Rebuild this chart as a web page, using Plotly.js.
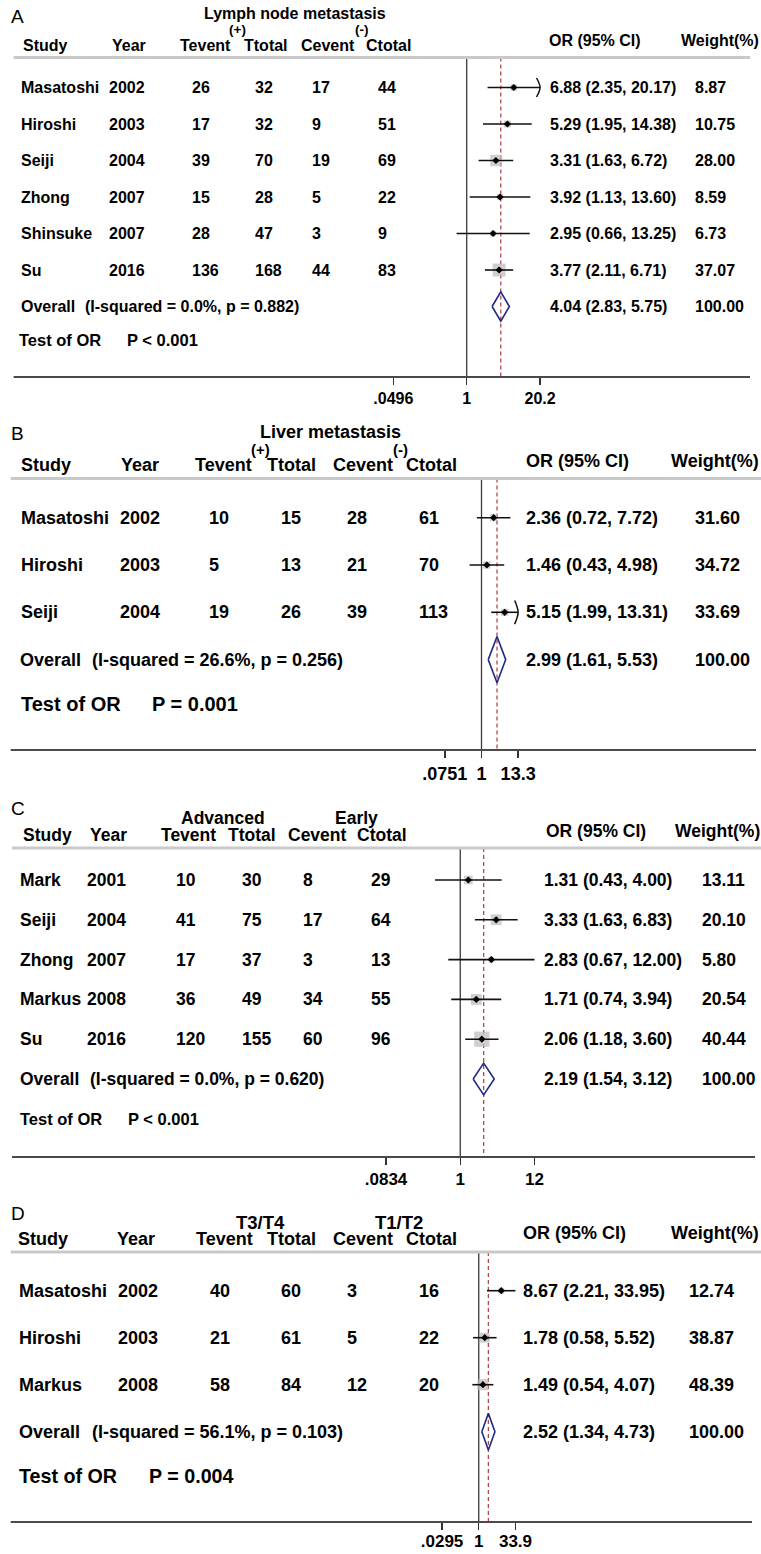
<!DOCTYPE html>
<html><head><meta charset="utf-8">
<script src="https://cdn.plot.ly/plotly-3.0.1.min.js"></script>
<style>html,body{margin:0;padding:0;background:#fff}#chart{width:761px;height:1554px}</style>
</head><body><div id="chart"></div>
<script>
// ================= DATA =================
const columnHeaders = ["Study","Year","Tevent","Ttotal","Cevent","Ctotal","OR (95% CI)","Weight(%)"];
const overallWeightText = "100.00";

// Panel A: Lymph node metastasis
const headA = ["Lymph node metastasis","(+)","(-)"];
const studiesA = ["Masatoshi","Hiroshi","Seiji","Zhong","Shinsuke","Su"];
const yearsA = [2002,2003,2004,2007,2007,2016];
const teventA = [26,17,39,15,28,136];
const ttotalA = [32,32,70,28,47,168];
const ceventA = [17,9,19,5,3,44];
const ctotalA = [44,51,69,22,9,83];
const orA = [6.88,5.29,3.31,3.92,2.95,3.77];
const lowA = [2.35,1.95,1.63,1.13,0.66,2.11];
const highA = [20.17,14.38,6.72,13.60,13.25,6.71];
const weightA = [8.87,10.75,28.00,8.59,6.73,37.07];
const arrowA = [true,false,false,false,false,false];
const overallA = [4.04,2.83,5.75];
const hetA = ["0.0%","0.882"];
const testA = "P < 0.001";
const tickValsA = [0.0496,1,20.2];
const tickTextA = [".0496","1","20.2"];

// Panel B: Liver metastasis
const headB = ["Liver metastasis","(+)","(-)"];
const studiesB = ["Masatoshi","Hiroshi","Seiji"];
const yearsB = [2002,2003,2004];
const teventB = [10,5,19];
const ttotalB = [15,13,26];
const ceventB = [28,21,39];
const ctotalB = [61,70,113];
const orB = [2.36,1.46,5.15];
const lowB = [0.72,0.43,1.99];
const highB = [7.72,4.98,13.31];
const weightB = [31.60,34.72,33.69];
const arrowB = [false,false,true];
const overallB = [2.99,1.61,5.53];
const hetB = ["26.6%","0.256"];
const testB = "P = 0.001";
const tickValsB = [0.0751,1,13.3];
const tickTextB = [".0751","1","13.3"];

// Panel C: Advanced vs Early
const headC = ["","Advanced","Early"];
const studiesC = ["Mark","Seiji","Zhong","Markus","Su"];
const yearsC = [2001,2004,2007,2008,2016];
const teventC = [10,41,17,36,120];
const ttotalC = [30,75,37,49,155];
const ceventC = [8,17,3,34,60];
const ctotalC = [29,64,13,55,96];
const orC = [1.31,3.33,2.83,1.71,2.06];
const lowC = [0.43,1.63,0.67,0.74,1.18];
const highC = [4.00,6.83,12.00,3.94,3.60];
const weightC = [13.11,20.10,5.80,20.54,40.44];
const arrowC = [false,false,false,false,false];
const overallC = [2.19,1.54,3.12];
const hetC = ["0.0%","0.620"];
const testC = "P < 0.001";
const tickValsC = [0.0834,1,12];
const tickTextC = [".0834","1","12"];

// Panel D: T3/T4 vs T1/T2
const headD = ["","T3/T4","T1/T2"];
const studiesD = ["Masatoshi","Hiroshi","Markus"];
const yearsD = [2002,2003,2008];
const teventD = [40,21,58];
const ttotalD = [60,61,84];
const ceventD = [3,5,12];
const ctotalD = [16,22,20];
const orD = [8.67,1.78,1.49];
const lowD = [2.21,0.58,0.54];
const highD = [33.95,5.52,4.07];
const weightD = [12.74,38.87,48.39];
const arrowD = [false,false,false];
const overallD = [2.52,1.34,4.73];
const hetD = ["56.1%","0.103"];
const testD = "P = 0.004";
const tickValsD = [0.0295,1,33.9];
const tickTextD = [".0295","1","33.9"];

// ================= LAYOUT GEOMETRY (pixels) =================
const W = 761, H = 1554;
const FONT = 'Liberation Sans, Arial, Helvetica, sans-serif';

const geoA = {top:57.5, bot:377, row0:87.5, sp:36.5, nullPx:466.7, ppd:56.2, fs:16, tickFs:16, tickShift:0, titleFs:16, subFs:13.5, testFs:16.5,
  box:2.13, dH:0.4, arrowH:0.26, letter:"A", letterXY:[10,16], titleXY:[295,13.5], subX:[237,362], subY:30, hdrY:45, orHdrY:41,
  hdrX:[21.8,110.7,178.6,242.7,300,365,547.6,680], colX:[20.4,107.8,190.8,253.9,310.7,377.2,548.5,694.2],
  overallX:[20.4,83.5], testXY:[18.4,126,340], grayX:[13.6,750], botX:[13.6,750]};
const geoB = {top:478.5, bot:750, row0:517.7, sp:47.3, nullPx:481.5, ppd:32.6, fs:18, tickFs:18, tickShift:0, titleFs:18, subFs:15, testFs:20,
  box:1.25, dH:0.49, arrowH:0.25, letter:"B", letterXY:[10,433], titleXY:[330,432], subX:[260.7,400.5], subY:449.3, hdrY:465.5, orHdrY:461,
  hdrX:[20.4,120.4,194.2,265.5,331.6,405.3,525.2,670], colX:[20.4,119.4,207.8,280,345.6,418.4,525.2,694.2],
  overallX:[19.4,91.3], testXY:[20.4,150.5,704.3], grayX:[10.7,761], botX:[10.7,756]};
const geoC = {top:848, bot:1157, row0:880, sp:39.8, nullPx:460.25, ppd:68.8, fs:17.5, tickFs:17, tickShift:0, titleFs:17.5, subFs:17.5, testFs:16.5,
  box:2.4, dH:0.4, arrowH:0.25, letter:"C", letterXY:[10,808], titleXY:null, subX:[223.3,356.3], subY:818.3, hdrY:835, orHdrY:831,
  hdrX:[21.8,88.8,160.2,227.2,287.4,355.8,545.1,674], colX:[19.4,86.4,174.8,241.3,302,370,542.7,700.5],
  overallX:[19.4,89.3], testXY:[19.4,127,1119], grayX:[12,761], botX:[12,755]};
const geoD = {top:1252, bot:1522, row0:1290.7, sp:47, nullPx:478.75, ppd:24.0, fs:18, tickFs:17, tickShift:-3, titleFs:18, subFs:18.5, testFs:19.7,
  box:1.6, dH:0.39, arrowH:0.25, letter:"D", letterXY:[10,1213.3], titleXY:null, subX:[260.4,399.3], subY:1222.3, hdrY:1239.3, orHdrY:1233.3,
  hdrX:[17,115.5,195.1,266,331.6,405.3,522.3,670], colX:[18.4,117,208.7,280,345.6,418.4,522.3,688.3],
  overallX:[18.4,90.8], testXY:[18.4,148,1476], grayX:[10.7,761], botX:[10.7,752]};

const panels = [
  {head:headA, studies:studiesA, years:yearsA, tevent:teventA, ttotal:ttotalA, cevent:ceventA, ctotal:ctotalA, or:orA, low:lowA, high:highA, weight:weightA, arrow:arrowA, overall:overallA, het:hetA, test:testA, tickVals:tickValsA, tickText:tickTextA, geo:geoA},
  {head:headB, studies:studiesB, years:yearsB, tevent:teventB, ttotal:ttotalB, cevent:ceventB, ctotal:ctotalB, or:orB, low:lowB, high:highB, weight:weightB, arrow:arrowB, overall:overallB, het:hetB, test:testB, tickVals:tickValsB, tickText:tickTextB, geo:geoB},
  {head:headC, studies:studiesC, years:yearsC, tevent:teventC, ttotal:ttotalC, cevent:ceventC, ctotal:ctotalC, or:orC, low:lowC, high:highC, weight:weightC, arrow:arrowC, overall:overallC, het:hetC, test:testC, tickVals:tickValsC, tickText:tickTextC, geo:geoC},
  {head:headD, studies:studiesD, years:yearsD, tevent:teventD, ttotal:ttotalD, cevent:ceventD, ctotal:ctotalD, or:orD, low:lowD, high:highD, weight:weightD, arrow:arrowD, overall:overallD, het:hetD, test:testD, tickVals:tickValsD, tickText:tickTextD, geo:geoD}
];

const traces = [];
const annotations = [];
const shapes = [];
const layout = {width:W, height:H, margin:{l:0,r:0,t:0,b:0}, paper_bgcolor:'#fff', plot_bgcolor:'rgba(0,0,0,0)',
  showlegend:false, annotations, shapes, hovermode:false};

const px = v => v / W;
const py = v => 1 - v / H;
const f2 = v => v.toFixed(2);
const ciText = (o,l,h) => `${f2(o)} (${f2(l)}, ${f2(h)})`;

function txt(text, x, y, yref, size, opts) {
  opts = opts || {};
  annotations.push({text:String(text), x:px(x), xref:'paper', y:y, yref:yref, xanchor:opts.xanchor||'left', yanchor:'middle',
    showarrow:false, borderpad:0, font:{family:FONT, size:size, color:'#000', weight:opts.weight||'bold'}});
}

panels.forEach((p, idx) => {
  const g = p.geo;
  const ax = idx === 0 ? '' : String(idx + 1);
  const xa = 'x' + ax, ya = 'y' + ax;
  const n = p.studies.length;
  const yBotVal = (g.bot - g.row0) / g.sp, yTopVal = (g.top - g.row0) / g.sp;
  const xMaxTick = p.tickVals[p.tickVals.length - 1];

  layout['xaxis' + ax] = {domain:[0,1], anchor:ya, type:'log',
    range:[(0 - g.nullPx) / g.ppd, (W - g.nullPx) / g.ppd],
    tickmode:'array', tickvals:p.tickVals, ticktext:p.tickText, ticks:'outside', ticklen:7, tickwidth:1.4, tickcolor:'#333',
    ticklabelstandoff:g.tickShift,
    showgrid:false, zeroline:false, showline:false, fixedrange:true,
    tickfont:{family:FONT, size:g.tickFs, color:'#000', weight:'bold'}};
  layout['yaxis' + ax] = {domain:[1 - g.bot / H, 1 - g.top / H], anchor:xa, range:[yBotVal, yTopVal],
    showgrid:false, zeroline:false, showticklabels:false, ticks:'', showline:false, fixedrange:true};

  const base = {type:'scatter', xaxis:xa, yaxis:ya, hoverinfo:'skip', showlegend:false};
  const rows = p.studies.map((_, i) => i);

  // null line at OR = 1
  traces.push(Object.assign({}, base, {mode:'lines', x:[1,1], y:[yTopVal, yBotVal], line:{color:'#3a3a3a', width:1.3}}));
  // pooled estimate dashed line
  traces.push(Object.assign({}, base, {mode:'lines', x:[p.overall[0], p.overall[0]], y:[yTopVal, yBotVal],
    line:{color:'#b04a4a', width:1.3, dash:'4px,3px'}}));
  // weight boxes
  traces.push(Object.assign({}, base, {mode:'markers', x:p.or, y:rows,
    marker:{symbol:'square', color:'#bababa', size:p.weight.map(w => g.box * Math.sqrt(w)), line:{width:0}}}));
  // CI lines
  const cx = [], cy = [];
  p.low.forEach((lo, i) => { cx.push(lo, p.arrow[i] ? xMaxTick : p.high[i], null); cy.push(i, i, null); });
  traces.push(Object.assign({}, base, {mode:'lines', x:cx, y:cy, line:{color:'#111', width:1.6}}));
  // arrows for truncated CIs
  p.arrow.forEach((a, i) => {
    if (!a) return;
    const back = xMaxTick / Math.pow(10, 3.5 / g.ppd);
    traces.push(Object.assign({}, base, {mode:'lines', x:[back, xMaxTick, back], y:[i - g.arrowH, i, i + g.arrowH],
      line:{color:'#111', width:1.5, shape:'spline'}}));
  });
  // point estimates
  traces.push(Object.assign({}, base, {mode:'markers', x:p.or, y:rows,
    marker:{symbol:'diamond', color:'#000', size:5.5, line:{width:0}}}));
  // overall diamond
  const ov = p.overall;
  traces.push(Object.assign({}, base, {mode:'lines', x:[ov[1], ov[0], ov[2], ov[0], ov[1]], y:[n, n - g.dH, n, n + g.dH, n],
    line:{color:'#1f2a85', width:1.6}}));

  // lines
  shapes.push({type:'line', xref:'paper', yref:'paper', x0:px(g.grayX[0]), x1:px(g.grayX[1]), y0:py(g.top), y1:py(g.top),
    line:{color:'#c9c9c9', width:3}});
  shapes.push({type:'line', xref:'paper', yref:'paper', x0:px(g.botX[0]), x1:px(g.botX[1]), y0:py(g.bot), y1:py(g.bot),
    line:{color:'#4a4a4a', width:2}});

  // letter, title, group heads
  txt(g.letter, g.letterXY[0], py(g.letterXY[1]), 'paper', 19, {weight:'normal'});
  if (p.head[0] && g.titleXY) txt(p.head[0], g.titleXY[0], py(g.titleXY[1]), 'paper', g.titleFs, {xanchor:'center'});
  txt(p.head[1], g.subX[0], py(g.subY), 'paper', g.subFs, {xanchor:'center'});
  txt(p.head[2], g.subX[1], py(g.subY), 'paper', g.subFs, {xanchor:'center'});
  // column headers
  columnHeaders.forEach((h, j) => txt(h, g.hdrX[j], py(j >= 6 ? g.orHdrY : g.hdrY), 'paper', g.fs));
  // study rows
  p.studies.forEach((s, i) => {
    const vals = [s, p.years[i], p.tevent[i], p.ttotal[i], p.cevent[i], p.ctotal[i],
      ciText(p.or[i], p.low[i], p.high[i]), f2(p.weight[i])];
    vals.forEach((v, j) => txt(v, g.colX[j], i, ya, g.fs));
  });
  // overall row
  txt("Overall", g.overallX[0], n, ya, g.fs);
  txt(`(I-squared = ${p.het[0]}, p = ${p.het[1]})`, g.overallX[1], n, ya, g.fs);
  txt(ciText(ov[0], ov[1], ov[2]), g.colX[6], n, ya, g.fs);
  txt(overallWeightText, g.colX[7], n, ya, g.fs);
  // test of OR
  txt("Test of OR", g.testXY[0], py(g.testXY[2]), 'paper', g.testFs);
  txt(p.test, g.testXY[1], py(g.testXY[2]), 'paper', g.testFs);
});

Plotly.newPlot('chart', traces, layout, {staticPlot:true, displayModeBar:false});
</script>
</body></html>
